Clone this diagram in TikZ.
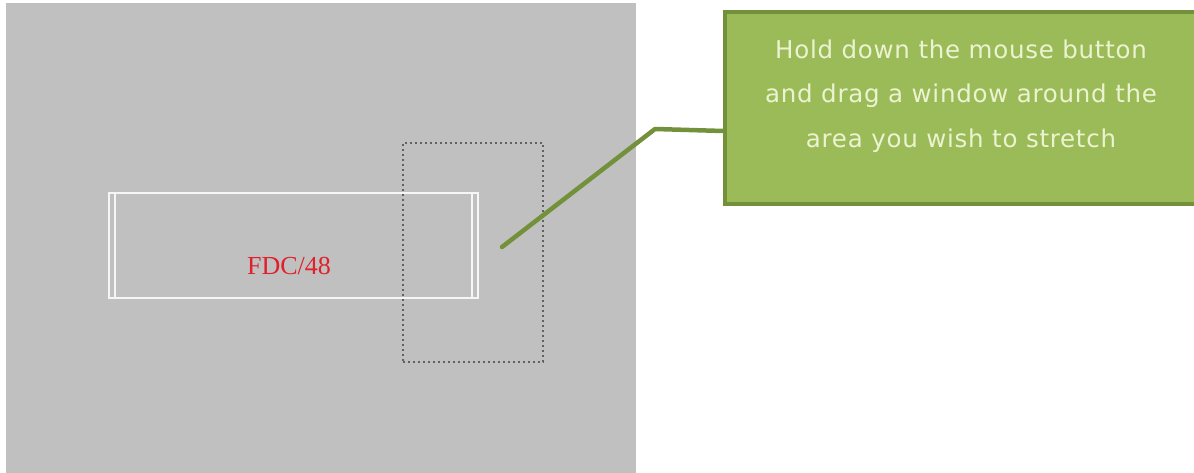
\documentclass[tikz,border=0pt]{standalone}
\usepackage{fontspec}
\setmainfont{Liberation Serif}
\newfontfamily\calloutfont[LetterSpace=3]{DejaVu Sans}
\definecolor{bggray}{HTML}{C0C0C0}
\definecolor{gfill}{HTML}{9BBB59}
\definecolor{gdark}{HTML}{73903A}
\definecolor{gtext}{HTML}{EBF3D0}
\definecolor{fdcred}{HTML}{E0202A}
\tikzset{
  panel/.style={fill=bggray, draw=none},
  framebox/.style={draw=white!93!gray, line width=2.2pt},
  selbox/.style={draw=black!62, line width=1.6pt, dash pattern=on 2pt off 3pt},
  callout/.style={fill=gfill, draw=gdark, line width=4pt, inner sep=0pt},
  leader/.style={draw=gdark, line width=4.5pt, line cap=round, line join=round},
}
\begin{document}
\begin{tikzpicture}[x=1pt,y=-1pt]
\useasboundingbox (0,0) rectangle (1194,473);
\fill[white] (0,0) rectangle (1194,473);
\path[panel] (6,3) rectangle (636,473);
% double-edged frame
\draw[framebox] (109,193) rectangle (478,298);
\draw[framebox] (115,193) -- (115,298);
\draw[framebox] (472,193) -- (472,298);
\node[font=\fontsize{26}{30}\selectfont, text=fdcred] (fdc) at (289,266) {FDC/48};
% dotted selection window
\node[selbox, minimum width=140pt, minimum height=219pt, inner sep=0pt] (win) at (473,252.5) {};
% callout box
\begin{scope}
\clip (0,0) rectangle (1194,473);
\node[callout, minimum width=480pt, minimum height=192pt, anchor=north west] (box) at (723,10) {};
\end{scope}
\node[text=gtext, align=center, font=\calloutfont\fontsize{24.5}{44.5}\selectfont] (txt) at (961,96)
  {Hold down the mouse button\\and drag a window around the\\area you wish to stretch};
\coordinate (tip) at (502,247);
\coordinate (bend) at (655,129);
\coordinate (attach) at (box.west |- 0,131);
\draw[leader] (tip) -- (bend) -- (attach);
\end{tikzpicture}
\end{document}
